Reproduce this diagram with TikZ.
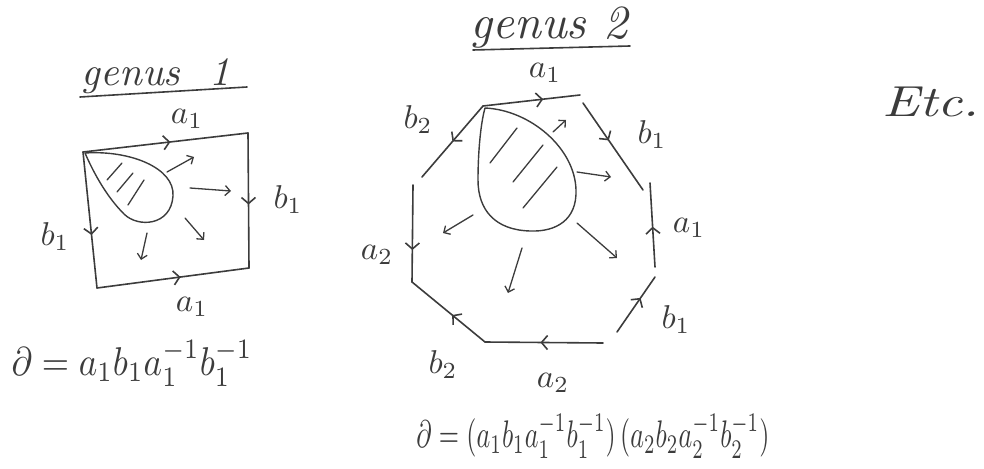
\documentclass[tikz,border=0pt]{standalone}
\usetikzlibrary{arrows.meta,decorations.markings}
\definecolor{ink}{RGB}{60,60,60}
\tikzset{
  ink/.style={draw=ink, line width=1.6pt, line cap=round, line join=round},
  midarrow/.style={postaction={decorate, decoration={markings,
     mark=at position #1 with {\arrow{Straight Barb[length=6pt,width=14pt,line width=1.6pt]}}}}},
  ray/.style={ink, line width=1.3pt, -{Straight Barb[length=5pt,width=10pt,line width=1.3pt]}},
  hatch/.style={ink, line width=1.3pt},
  lab/.style={text=ink, inner sep=0pt},
  title/.style={text=ink, inner sep=0pt},
}
\newcommand{\lbl}[1]{\scalebox{3.3}{$#1$}}
\begin{document}
\begin{tikzpicture}[x=1pt,y=-1pt]
\useasboundingbox (0,0) rectangle (984,468);

% ---------------- genus 1 ----------------
\node[title] (t1) at (156,76) {\resizebox{148pt}{!}{\itshape genus\ \ 1}};
\coordinate (u1a) at (80,97); \coordinate (u1b) at (247,87);
\draw[ink] (u1a) -- (u1b);

\coordinate (p1) at (83,152);
\coordinate (p2) at (248,133);
\coordinate (p3) at (249,268);
\coordinate (p4) at (97,288);
\draw[ink, midarrow=0.53] (p1) -- (p2);
\draw[ink, midarrow=0.53] (p2) -- (p3);
\draw[ink, midarrow=0.61] (p1) -- (p4);
\draw[ink, midarrow=0.55] (p4) -- (p3);

% teardrop
\draw[ink, line width=1.4pt] (85,153) .. controls (130,150) and (175,168) .. (173,196)
  .. controls (171,226) and (138,228) .. (124,214)
  .. controls (108,198) and (95,176) .. (85,153);
\draw[hatch] (107,180) -- (122,163);
\draw[hatch] (117,192) -- (133,173);
\draw[hatch] (128,205) -- (144,180);
% rays
\draw[ray] (167,172) -- (194,157);
\draw[ray] (190,188) -- (231,191);
\draw[ray] (185,218) -- (204,240);
\draw[ray] (147,233) -- (141,260);

\node[lab] (l1a) at (187,119) {\lbl{a_1}};
\node[lab] (l1b) at (288,200) {\lbl{b_1}};
\node[lab] (l1c) at (55,237) {\lbl{b_1}};
\node[lab] (l1d) at (192,307) {\lbl{a_1}};

\node[title] (f1) at (132,363) {\resizebox*{241pt}{46pt}{$\partial = a_1b_1a_1^{-1}b_1^{-1}$}};

% ---------------- genus 2 ----------------
\node[title] (t2) at (549,28) {\resizebox{157pt}{!}{\itshape genus\ 2}};
\coordinate (u2a) at (473,50); \coordinate (u2b) at (630,46);
\draw[ink] (u2a) -- (u2b);

\coordinate (q1) at (483,106);
\coordinate (q2) at (580,95);
\coordinate (q3) at (583,103);
\coordinate (q4) at (643,190);
\coordinate (q5) at (650,183);
\coordinate (q6) at (655,267);
\coordinate (q7) at (655,277);
\coordinate (q8) at (617,332);
\coordinate (q9) at (603,343);
\coordinate (q10) at (485,342);
\coordinate (q11) at (412,282);
\coordinate (q12) at (413,185);
\coordinate (q13) at (422,177);

\draw[ink, midarrow=0.62] (q1) -- (q2);
\draw[ink, midarrow=0.43] (q3) -- (q4);
\draw[ink, midarrow=0.48] (q6) -- (q5);
\draw[ink, midarrow=0.62] (q8) -- (q7);
\draw[ink, midarrow=0.53] (q9) -- (q10);
\draw[ink, midarrow=0.45] (q10) -- (q11);
\draw[ink, midarrow=0.67] (q12) -- (q11);
\draw[ink, midarrow=0.50] (q1) -- (q13);

% teardrop
\draw[ink, line width=1.4pt] (485,108) .. controls (530,110) and (575,148) .. (576,190)
  .. controls (577,220) and (556,232) .. (530,231)
  .. controls (495,230) and (478,210) .. (478,180)
  .. controls (478,150) and (481,122) .. (485,108);
\draw[hatch] (490,163) -- (517,128);
\draw[hatch] (513,182) -- (543,145);
\draw[hatch] (523,208) -- (557,167);
% rays
\draw[ray] (553,132) -- (566,120);
\draw[ray] (577,172) -- (611,177);
\draw[ray] (577,223) -- (617,258);
\draw[ray] (522,248) -- (508,293);
\draw[ray] (473,215) -- (443,233);

\node[lab] (l2a) at (545,73) {\lbl{a_1}};
\node[lab] (l2b) at (652,135) {\lbl{b_1}};
\node[lab] (l2c) at (689,228) {\lbl{a_1}};
\node[lab] (l2d) at (676,320) {\lbl{b_1}};
\node[lab] (l2e) at (553,383) {\lbl{a_2}};
\node[lab] (l2f) at (443,365) {\lbl{b_2}};
\node[lab] (l2g) at (377,255) {\lbl{a_2}};
\node[lab] (l2h) at (418,120) {\lbl{b_2}};

\node[title] (f2) at (593,436) {\resizebox*{353pt}{44pt}{$\partial = (a_1b_1a_1^{-1}b_1^{-1})\,(a_2b_2a_2^{-1}b_2^{-1})$}};

% ---------------- Etc ----------------
\node[title] (etc) at (931,102) {\resizebox*{97pt}{30pt}{\itshape Etc.}};

\end{tikzpicture}
\end{document}
